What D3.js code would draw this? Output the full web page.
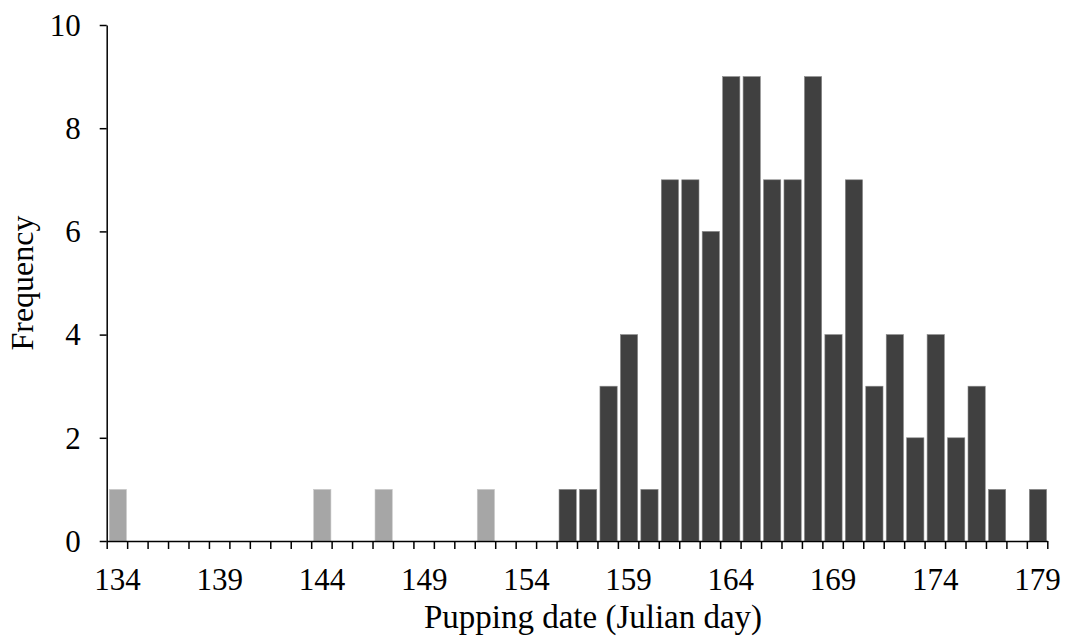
<!DOCTYPE html>
<html>
<head>
<meta charset="utf-8">
<script src="https://cdn.jsdelivr.net/npm/d3@7"></script>
<style>
  body { margin: 0; background: #fff; }
  svg { display: block; }
  text { font-family: "Liberation Serif", "Times New Roman", serif; fill: #000; }
</style>
</head>
<body>
<div id="chart"></div>
<script>
// pupping date histogram, one bar per day
const days = d3.range(134, 180);
const early = [134, 144, 147, 152];           // drawn in light grey
const counts = [
  1, 0, 0, 0, 0, 0, 0, 0, 0, 0,   // 134-143
  1, 0, 0, 1, 0, 0, 0, 0, 1, 0,   // 144-153
  0, 0, 1, 1, 3, 4, 1, 7, 7, 6,   // 154-163
  9, 9, 7, 7, 9, 4, 7, 3, 4, 2,   // 164-173
  4, 2, 3, 1, 0, 1                // 174-179
];
const labelDays = [134, 139, 144, 149, 154, 159, 164, 169, 174, 179];
const yTicks = [0, 2, 4, 6, 8, 10];

const width = 1078, height = 641;
const plotLeft = 106.7, plotRight = 1047.3, plotTop = 25, plotBottom = 541;

const svg = d3.select('#chart').append('svg')
  .attr('width', width)
  .attr('height', height);

const x = d3.scaleLinear().domain([133.5, 179.5]).range([plotLeft, plotRight]);
const y = d3.scaleLinear().domain([0, 10]).range([plotBottom, plotTop]);
const binW = x(1) - x(0);

// bars
svg.append('g')
  .selectAll('rect')
  .data(days.map((d, i) => ({day: d, n: counts[i]})).filter(d => d.n > 0))
  .join('rect')
  .attr('x', d => x(d.day - 0.5) + 2.5)
  .attr('width', binW - 3.2)
  .attr('y', d => y(d.n))
  .attr('height', d => y(0) - y(d.n))
  .attr('fill', d => early.includes(d.day) ? '#a6a6a6' : '#404040')
  .attr('stroke', d => early.includes(d.day) ? '#c8c8c8' : '#8a8a8a')
  .attr('stroke-width', 0.6);

// y axis
const yAxis = svg.append('g')
  .attr('transform', `translate(${plotLeft},0)`)
  .call(d3.axisLeft(y).tickValues(yTicks).tickSize(7).tickPadding(19).tickSizeOuter(0));
yAxis.selectAll('text').attr('font-size', 31).attr('font-family', '"Liberation Serif", serif').attr('dy', '0.33em');

// x axis: ticks at bin edges
const edges = d3.range(133.5, 180, 1);
svg.append('g')
  .attr('transform', `translate(0,${plotBottom})`)
  .call(d3.axisBottom(x).tickValues(edges).tickFormat('').tickSize(8).tickSizeOuter(0));

// x labels at every fifth day
const xLab = svg.append('g')
  .attr('transform', `translate(0,${plotBottom})`)
  .call(d3.axisBottom(x).tickValues(labelDays).tickSize(0));
xLab.select('.domain').remove();
xLab.selectAll('text').attr('font-size', 31).attr('font-family', '"Liberation Serif", serif')
  .attr('y', 49).attr('dy', 0);

svg.selectAll('.domain, .tick line').attr('stroke', '#000').attr('stroke-width', 1.5);

// axis titles
svg.append('text')
  .attr('x', 593)
  .attr('y', 628)
  .attr('text-anchor', 'middle')
  .attr('font-size', 33)
  .text('Pupping date (Julian day)');

svg.append('text')
  .attr('transform', `translate(33,${(plotTop + plotBottom) / 2}) rotate(-90)`)
  .attr('text-anchor', 'middle')
  .attr('font-size', 32)
  .text('Frequency');
</script>
</body>
</html>
